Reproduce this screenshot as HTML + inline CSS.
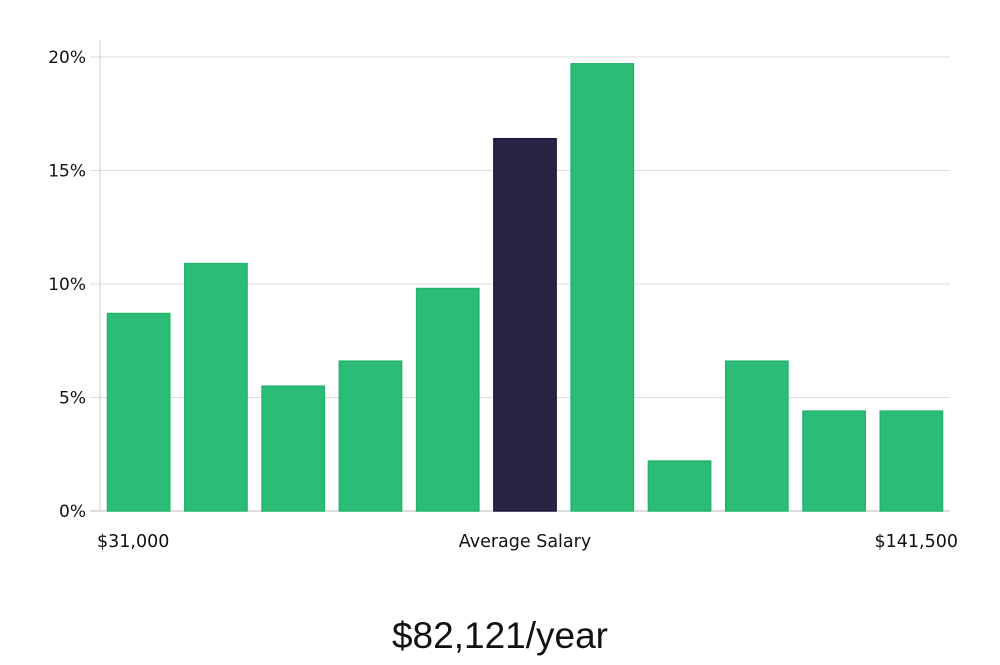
<!DOCTYPE html>
<html><head><meta charset="utf-8"><style>
body{margin:0;background:#fff;font-family:"Liberation Sans","DejaVu Sans",sans-serif}
svg text{font-family:"DejaVu Sans","Liberation Sans",sans-serif}
</style></head><body>
<svg id="chart" width="1000" height="660" xmlns="http://www.w3.org/2000/svg">
<g id="grid"></g><g id="bars"></g><g id="labels"></g>
<text x="500" y="648" text-anchor="middle" font-size="37" font-weight="300" fill="#111" style="font-family:'Liberation Sans',sans-serif">$82,121/year</text>
</svg>
<script>
const categories=["b1","b2","b3","b4","b5","b6","b7","b8","b9","b10","b11"];
const values=[8.7,10.9,5.5,6.6,9.8,16.4,19.7,2.2,6.6,4.4,4.4];
const highlight=[false,false,false,false,false,true,false,false,false,false,false];
const yTicks=[0,5,10,15,20];
const yTickLabels=["0%","5%","10%","15%","20%"];
const xLabels=["$31,000","Average Salary","$141,500"];
const NS="http://www.w3.org/2000/svg";
const x0=100,x1=950,y0=511,yTop=57,yMax=20;
const y=v=>y0-(v/yMax)*(y0-yTop);
const band=(x1-x0)/categories.length;
const x=i=>x0+i*band+7;
function mk(t,a,p){const e=document.createElementNS(NS,t);for(const k in a)e.setAttribute(k,a[k]);p.appendChild(e);return e;}
const grid=document.getElementById('grid');
yTicks.forEach((t,i)=>{
  const l=mk('line',{x1:90,x2:x1,y1:y(t),y2:y(t),stroke:i==0?'#bbb':'#ddd','stroke-width':1},grid);
  
  
  const tx=mk('text',{x:86,y:y(t)+6,'text-anchor':'end','font-size':17,fill:'#111'},grid);
  tx.textContent=yTickLabels[i];
  
  
});
const ax=mk('line',{x1:x0,x2:x0,y1:40,y2:y0,stroke:'#ccc'},grid);


const bars=document.getElementById('bars');
values.forEach((v,i)=>{
  const r=mk('rect',{x:x(i)+0.5,y:y(v),width:band-15,height:y0-y(v),fill:highlight[i]?'#272444':'#2bbd77',stroke:highlight[i]?'#1c1a38':'#22b46c','stroke-width':1.5},bars);
  
  
});
const lab=document.getElementById('labels');
[[97,'start'],[525,'middle'],[958,'end']].forEach((p,i)=>{
  const t=mk('text',{x:p[0],y:547,'text-anchor':p[1],'font-size':17.5,fill:'#111'},lab);
  t.textContent=xLabels[i];
  
  
});
</script>
</body></html>
